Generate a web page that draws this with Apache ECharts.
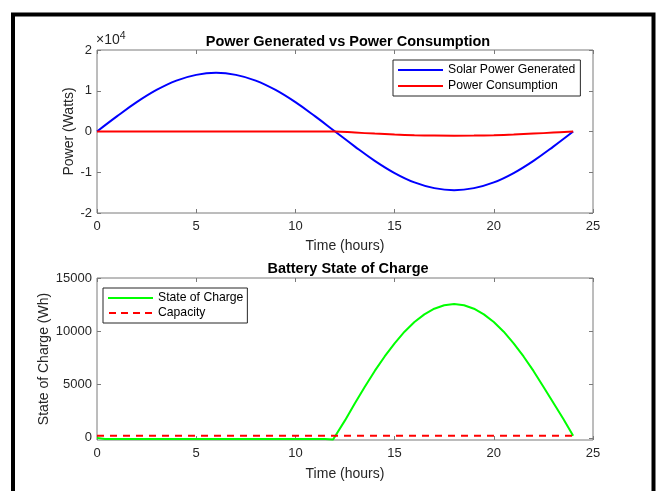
<!DOCTYPE html>
<html>
<head>
<meta charset="utf-8">
<script src="https://cdn.jsdelivr.net/npm/echarts@6/dist/echarts.min.js"></script>
<style>
html,body{margin:0;padding:0;background:#fff;}
#c{width:661px;height:491px;}
</style>
</head>
<body>
<div id="c"></div>
<script>
// ---- Data ----
const hours = [0,1,2,3,4,5,6,7,8,9,10,11,12,13,14,15,16,17,18,19,20,21,22,23,24];
const solarPower = [0,3700,7200,10200,12500,13900,14400,13900,12500,10200,7200,3700,0,-3700,-7200,-10200,-12500,-13900,-14400,-13900,-12500,-10200,-7200,-3700,0];
const powerConsumption = [0,0,0,0,0,0,0,0,0,0,0,0,0,-270,-520,-740,-900,-1000,-1040,-1000,-900,-740,-520,-270,0];
const socTime = [0,0.4,6,11.5,11.9,12,12.5,13,13.5,14,14.5,15,15.5,16,16.5,17,17.5,18,18.5,19,19.5,20,20.5,21,21.5,22,22.5,23,23.5,24];
const socValues = [0,-100,-100,-100,-150,-100,1640,3250,4800,6280,7640,8870,9960,10870,11590,12120,12440,12550,12440,12120,11590,10870,9960,8870,7640,6280,4800,3300,1800,200];
const capacityTime = [0,24];
const capacityValues = [200,200];
const xTicks = [0,5,10,15,20,25];
const powerTicks = [-20000,-10000,0,10000,20000];
const socTicks = [0,5000,10000,15000];

const pairs = (xs, ys) => xs.map((x,i)=>[x, ys[i]]);

const FONT = 'Liberation Sans, Arial, Helvetica, sans-serif';
const AX = '#7a7a7a';
const TXT = '#262626';
const TICK = 13, NAME = 14;

function xAxes(gi, name, gap) {
  return [
    {gridIndex: gi, type:'value', min:0, max:25, interval:5, position:'bottom',
     name:name, nameLocation:'middle', nameGap:gap, nameMoveOverlap:false,
     nameTextStyle:{color:TXT, fontSize:NAME, fontFamily:FONT},
     axisLine:{show:false, onZero:false}, axisTick:{show:true, inside:true, length:4, lineStyle:{color:AX}},
     axisLabel:{color:TXT, fontSize:TICK, fontFamily:FONT, margin:7},
     splitLine:{show:false}},
    {gridIndex: gi, type:'value', min:0, max:25, interval:5, position:'top',
     axisLine:{show:false, onZero:false}, axisTick:{show:true, inside:true, length:4, lineStyle:{color:AX}},
     axisLabel:{show:false}, splitLine:{show:false}}
  ];
}

const solidIcon = 'path://M0,0H45V2H0Z';
const dashIcon = 'path://M0,0H7V2H0Z M12,0H19V2H12Z M24,0H31V2H24Z M36,0H43V2H36Z';

const option = {
  animation:false,
  backgroundColor:'#fff',
  title:[
    {text:'Power Generated vs Power Consumption', left:343, top:29, textAlign:'center',
     textStyle:{fontSize:14.5, fontWeight:'bold', color:'#000', fontFamily:FONT}},
    {text:'Battery State of Charge', left:343, top:256, textAlign:'center',
     textStyle:{fontSize:14.5, fontWeight:'bold', color:'#000', fontFamily:FONT}}
  ],
  grid:[
    {left:97, top:50, width:496, height:163, show:true, borderColor:AX, borderWidth:1, backgroundColor:'#fff'},
    {left:97, top:278, width:496, height:162, show:true, borderColor:AX, borderWidth:1, backgroundColor:'#fff'}
  ],
  legend:[
    {data:[{name:'Solar Power Generated', icon:solidIcon},{name:'Power Consumption', icon:solidIcon}],
     orient:'vertical', left:393, top:60,
     itemWidth:45, itemHeight:2, itemGap:2, padding:[3,5,3,5],
     borderColor:'#262626', borderWidth:1, backgroundColor:'#fff',
     textStyle:{fontSize:12.2, color:'#000', fontFamily:FONT, lineHeight:14}},
    {data:[{name:'State of Charge', icon:solidIcon},{name:'Capacity', icon:dashIcon}],
     orient:'vertical', left:103, top:288,
     itemWidth:45, itemHeight:2, itemGap:1, padding:[3,4,3,5],
     borderColor:'#262626', borderWidth:1, backgroundColor:'#fff',
     textStyle:{fontSize:12.2, color:'#000', fontFamily:FONT, lineHeight:14}}
  ],
  xAxis:[...xAxes(0,'Time (hours)',26), ...xAxes(1,'Time (hours)',27)],
  yAxis:[
    {gridIndex:0, type:'value', min:-20000, max:20000, interval:10000, position:'left',
     name:'Power (Watts)', nameLocation:'middle', nameGap:21, nameMoveOverlap:false,
     nameTextStyle:{color:TXT, fontSize:NAME, fontFamily:FONT},
     axisLine:{show:false, onZero:false}, axisTick:{show:true, inside:true, length:4, lineStyle:{color:AX}},
     axisLabel:{color:TXT, fontSize:TICK, fontFamily:FONT, margin:5, formatter:v=>String(v/10000)},
     splitLine:{show:false}},
    {gridIndex:0, type:'value', min:-20000, max:20000, interval:10000, position:'right',
     axisLine:{show:false, onZero:false}, axisTick:{show:true, inside:true, length:4, lineStyle:{color:AX}},
     axisLabel:{show:false}, splitLine:{show:false}},
    {gridIndex:1, type:'value', min:-200, max:15000, position:'left',
     name:'State of Charge (Wh)', nameLocation:'middle', nameGap:46, nameMoveOverlap:false,
     nameTextStyle:{color:TXT, fontSize:NAME, fontFamily:FONT},
     axisLine:{show:false, onZero:false},
     axisTick:{show:true, inside:true, length:4, lineStyle:{color:AX}, customValues:socTicks},
     axisLabel:{color:TXT, fontSize:TICK, fontFamily:FONT, margin:5, customValues:socTicks, formatter:v=>String(v)},
     splitLine:{show:false}},
    {gridIndex:1, type:'value', min:-200, max:15000, position:'right',
     axisLine:{show:false, onZero:false},
     axisTick:{show:true, inside:true, length:4, lineStyle:{color:AX}, customValues:socTicks},
     axisLabel:{show:false}, splitLine:{show:false}}
  ],
  series:[
    {name:'Solar Power Generated', type:'line', xAxisIndex:0, yAxisIndex:0, data:pairs(hours, solarPower),
     smooth:0.4, symbol:'none', lineStyle:{color:'#0000ff', width:2}, itemStyle:{color:'#0000ff'}},
    {name:'Power Consumption', type:'line', xAxisIndex:0, yAxisIndex:0, data:pairs(hours, powerConsumption),
     smooth:0.4, symbol:'none', lineStyle:{color:'#ff0000', width:2}, itemStyle:{color:'#ff0000'}},
    {name:'State of Charge', type:'line', xAxisIndex:2, yAxisIndex:2, data:pairs(socTime, socValues),
     smooth:false, symbol:'none', lineStyle:{color:'#00ff00', width:2}, itemStyle:{color:'#00ff00'}},
    {name:'Capacity', type:'line', xAxisIndex:2, yAxisIndex:2, data:pairs(capacityTime, capacityValues),
     symbol:'none', lineStyle:{color:'#ff0000', width:2, type:[7,6]}, itemStyle:{color:'#ff0000'}}
  ],
  graphic:[
    {type:'rect', shape:{x:13, y:14.5, width:640.5, height:520}, style:{fill:null, stroke:'#000', lineWidth:4}, z:100},
    {type:'text', left:96, top:31, style:{rich:{a:{fontSize:14, fill:TXT, fontFamily:FONT}, b:{fontSize:10.5, fill:TXT, fontFamily:FONT, verticalAlign:'top', padding:[0,0,7,0]}}, text:'{a|×10}{b|4}'}}
  ]
};
echarts.init(document.getElementById('c')).setOption(option);
</script>
</body>
</html>
